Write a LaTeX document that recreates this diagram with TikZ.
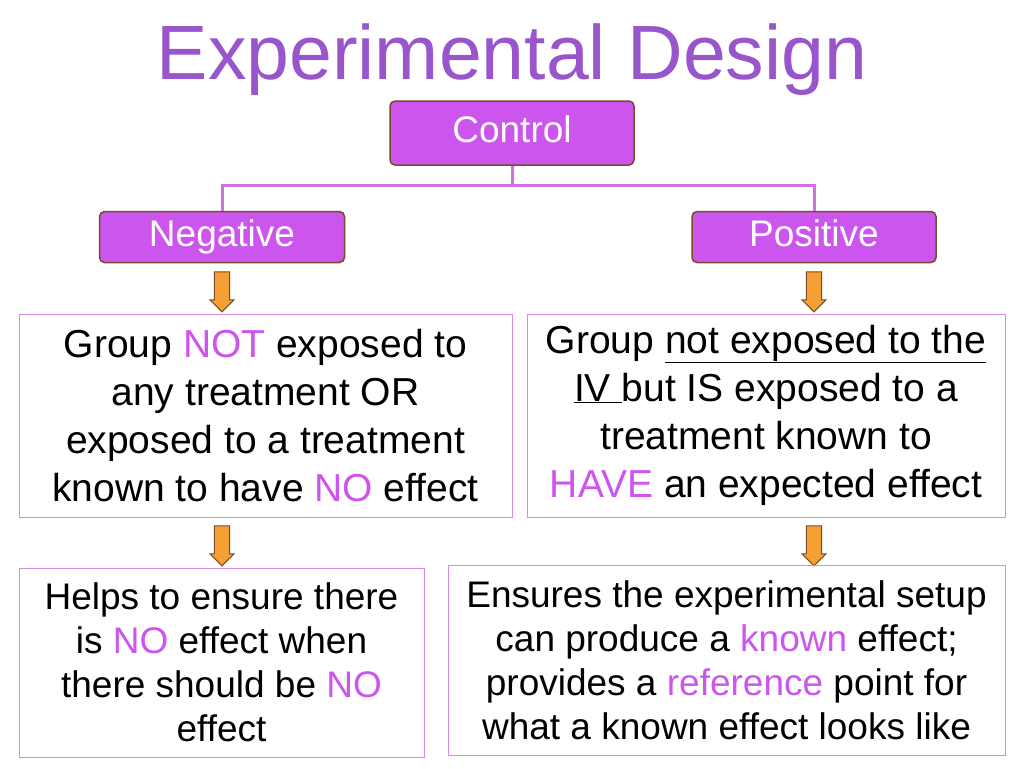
\documentclass[tikz,border=0pt]{standalone}
\usepackage{fontspec}
\setmainfont{Liberation Sans}
\usepackage{tikz}
\usetikzlibrary{shapes.arrows}
\definecolor{ctrlfill}{HTML}{CC55EE}
\definecolor{ctrledge}{HTML}{7A4A2A}
\definecolor{titlecol}{HTML}{9955CC}
\definecolor{linecol}{HTML}{D070E0}
\definecolor{boxedge}{HTML}{D58BE6}
\definecolor{hl}{HTML}{CC55EE}
\definecolor{arrfill}{HTML}{F5A033}
\newcommand{\hi}[1]{\textcolor{hl}{#1}}
\newcommand{\ul}[1]{\smash{\underline{#1}}}

\begin{document}
\begin{tikzpicture}[x=1pt, y=-1pt, thick]
\tikzset{headbox/.style={draw=ctrledge, line width=1.5pt, fill=ctrlfill, rounded corners=5pt,
           text=white, font=\fontsize{37}{40}\selectfont, inner sep=0pt, text height=26pt, text depth=8pt},
         textbox/.style={draw=boxedge, line width=0.8pt, inner sep=0pt, align=center,
           font=\fontsize{39}{48}\selectfont},
         downarrow/.style={single arrow, draw=ctrledge, line width=1pt, fill=arrfill, rotate=-90,
           minimum height=40pt, minimum width=24pt, single arrow head extend=2pt, inner sep=3pt},
         branch/.style={draw=linecol, line width=3pt}}
\useasboundingbox (0,0) rectangle (1024,768);

\node[font=\fontsize{77}{84}\selectfont, text=titlecol] (title) at (512,60) {Experimental Design};

\node[headbox, minimum width=244pt, minimum height=64pt] (control) at (512,133) {Control};
\node[headbox, minimum width=245pt, minimum height=51pt] (neg) at (222,237) {Negative};
\node[headbox, minimum width=244pt, minimum height=51pt] (pos) at (814,237) {Positive};

\coordinate (split) at (512,185);
\draw[branch] (control.south) -- (split);
\draw[branch] (neg.north) |- (split) -| (pos.north);

\node[downarrow] (arrA) at (222,288) {};
\node[downarrow] (arrB) at (814,288) {};

\node[textbox, minimum width=493pt, minimum height=203pt] (negtext) at (265.5,415.5)
  {Group \hi{NOT} exposed to\\any treatment OR\\exposed to a treatment\\known to have \hi{NO} effect};
\node[textbox, minimum width=478pt, minimum height=203pt] (postext) at (766,415.5)
  {Group \ul{not exposed to the}\\\ul{IV\ }but IS exposed to a\\treatment known to\\\hi{HAVE} an expected effect};

\node[downarrow] (arrC) at (222,542) {};
\node[downarrow] (arrD) at (814,542) {};

\node[textbox, font=\fontsize{37}{44}\selectfont, minimum width=405pt, minimum height=189pt] (negwhy) at (221.5,662.5)
  {Helps to ensure there\\is \hi{NO} effect when\\there should be \hi{NO}\\effect};
\node[textbox, font=\fontsize{37}{44}\selectfont, minimum width=557pt, minimum height=190pt] (poswhy) at (726.5,660)
  {Ensures the experimental setup\\can produce a \hi{known} effect;\\provides a \hi{reference} point for\\what a known effect looks like};
\end{tikzpicture}
\end{document}
